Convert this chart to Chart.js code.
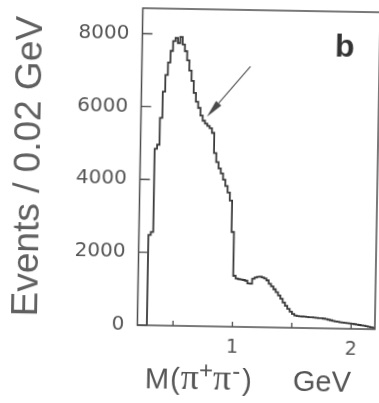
<!DOCTYPE html>
<html>
<head>
<meta charset="utf-8">
<script src="https://cdn.jsdelivr.net/npm/chart.js@4.4.1/dist/chart.umd.min.js"></script>
<style>
  html, body { margin: 0; padding: 0; background: #fff; }
  #wrap { width: 379px; height: 403px; transform: rotate(1deg); transform-origin: 50% 50%; }
</style>
</head>
<body>
<div id="wrap"><canvas id="massChart" width="379" height="403"></canvas></div>
<script>
// pi+ pi- invariant mass spectrum, 0.02 GeV bins starting at threshold
const massStart = 0.28;
const binWidth = 0.02;
const events = [
  2480, 2560, 4850, 4960, 5700, 6420, 6880, 7220, 7540, 7810,
  7900, 7760, 7930, 7720, 7540, 7290, 7010, 6730, 6400, 6160,
  5990, 5780, 5640, 5560, 5500, 5440, 5310, 4760, 4510, 4340,
  4200, 4030, 3860, 3680, 3460, 2600, 1400, 1330, 1310, 1300,
  1290, 1270, 1200, 1190, 1330, 1360, 1380, 1390, 1370, 1340,
  1290, 1200, 1130, 1050, 970, 880, 790, 690, 600, 520,
  440, 380, 340, 325, 320, 315, 312, 306, 300, 296,
  290, 286, 280, 276, 268, 255, 240, 226, 210, 196,
  186, 176, 168, 160, 154, 148, 140, 130, 120, 110,
  100, 92, 80, 66, 50, 36
];

const yTicks = [0, 2000, 4000, 6000, 8000];
const xTicks = [0.5, 1, 1.5, 2];
const xTickLabels = { 1: '1', 2: '2' };

// arrow marking the shoulder near the omega mass
const arrowFrom = { x: 1.115, y: 7150 };
const arrowTo = { x: 0.755, y: 5750 };

// histogram outline: rise from zero at the first edge, one point per bin edge
const points = [{ x: massStart, y: 0 }];
events.forEach((v, i) => points.push({ x: +(massStart + i * binWidth).toFixed(2), y: v }));
points.push({ x: +(massStart + events.length * binWidth).toFixed(2), y: events[events.length - 1] });

const ink = '#3a3a3a';
const frameColor = '#4d4d4d';
const textColor = '#555';

const decorations = {
  id: 'decorations',
  afterDraw(chart) {
    const { ctx, chartArea: a, scales: { x, y } } = chart;
    ctx.save();

    // box around the plot
    ctx.strokeStyle = frameColor;
    ctx.lineWidth = 1.5;
    ctx.strokeRect(a.left, a.top, a.right - a.left, a.bottom - a.top);

    // inward ticks
    ctx.lineWidth = 1.3;
    ctx.beginPath();
    yTicks.forEach(v => {
      const py = y.getPixelForValue(v);
      ctx.moveTo(a.left, py);
      ctx.lineTo(a.left + 10, py);
    });
    xTicks.forEach(v => {
      const px = x.getPixelForValue(v);
      ctx.moveTo(px, a.bottom);
      ctx.lineTo(px, a.bottom - 5);
    });
    ctx.stroke();

    // arrow
    const x0 = x.getPixelForValue(arrowFrom.x), y0 = y.getPixelForValue(arrowFrom.y);
    const x1 = x.getPixelForValue(arrowTo.x), y1 = y.getPixelForValue(arrowTo.y);
    const ang = Math.atan2(y1 - y0, x1 - x0);
    const headLen = 18, headHalf = 3.5;
    const bx = x1 - headLen * Math.cos(ang), by = y1 - headLen * Math.sin(ang);
    ctx.strokeStyle = '#5a5a5a';
    ctx.lineWidth = 1.2;
    ctx.beginPath();
    ctx.moveTo(x0, y0);
    ctx.lineTo(bx, by);
    ctx.stroke();
    ctx.fillStyle = '#4a4a4a';
    ctx.beginPath();
    ctx.moveTo(x1, y1);
    ctx.lineTo(bx + headHalf * Math.sin(ang), by - headHalf * Math.cos(ang));
    ctx.lineTo(bx - headHalf * Math.sin(ang), by + headHalf * Math.cos(ang));
    ctx.closePath();
    ctx.fill();

    // panel letter
    ctx.fillStyle = '#333';
    ctx.font = 'bold 32px "Liberation Sans", Arial, sans-serif';
    ctx.textAlign = 'center';
    ctx.textBaseline = 'alphabetic';
    ctx.fillText('b', a.right - 35, a.top + 45);

    // y axis title
    ctx.save();
    ctx.translate(29, 169);
    ctx.rotate(-Math.PI / 2);
    ctx.fillStyle = '#606060';
    ctx.font = '37px "Liberation Sans", Arial, sans-serif';
    ctx.textBaseline = 'middle';
    ctx.fillText('Events / 0.02 GeV', 0, 0);
    ctx.restore();

    // x axis title, with superscript charges
    const base = 389;
    const main = '29px "Liberation Sans", Arial, sans-serif';
    const greek = '36px "Liberation Serif", serif';
    const sup = '24px "Liberation Sans", Arial, sans-serif';
    const parts = [
      ['M', main, 0, 1], ['(', main, 0, 1], ['π', greek, 0, 0], ['+', sup, -11, 0],
      ['π', greek, 0, 1], ['-', sup, -11, 2], [')', main, 0, 0]
    ];
    ctx.fillStyle = '#555';
    ctx.textAlign = 'left';
    let cx = 148;
    parts.forEach(([t, f, dy, gap]) => {
      ctx.font = f;
      ctx.fillText(t, cx, base + dy);
      cx += ctx.measureText(t).width + gap;
    });
    ctx.font = main;
    ctx.fillText('GeV', 296, base);

    ctx.restore();
  }
};

new Chart(document.getElementById('massChart'), {
  type: 'line',
  data: {
    datasets: [{
      data: points,
      stepped: 'before',
      borderColor: ink,
      borderWidth: 1.8,
      pointRadius: 0,
      fill: false
    }]
  },
  options: {
    responsive: false,
    animation: false,
    layout: { padding: { top: 9, right: 2, left: 0, bottom: 0 } },
    plugins: { legend: { display: false }, tooltip: { enabled: false } },
    scales: {
      x: {
        type: 'linear',
        min: 0.2,
        max: 2.2,
        grid: { display: false, drawTicks: false },
        border: { display: false },
        afterBuildTicks: s => { s.ticks = xTicks.map(v => ({ value: v })); },
        afterFit: s => { s.height = 77; s.paddingLeft = 0; s.paddingRight = 0; },
        ticks: {
          autoSkip: false,
          maxRotation: 0,
          padding: 10,
          color: textColor,
          font: { family: '"DejaVu Sans", sans-serif', size: 19 },
          callback: v => xTickLabels[v] || ''
        }
      },
      y: {
        min: 0,
        max: 8700,
        grid: { display: false, drawTicks: false },
        border: { display: false },
        afterBuildTicks: s => { s.ticks = yTicks.map(v => ({ value: v })); },
        afterFit: s => { s.width = 139.5; s.paddingTop = 0; s.paddingBottom = 0; },
        ticks: {
          padding: 13,
          color: textColor,
          font: { family: '"DejaVu Sans", sans-serif', size: 20 },
          callback: v => String(v)
        }
      }
    }
  },
  plugins: [decorations]
});
</script>
</body>
</html>
